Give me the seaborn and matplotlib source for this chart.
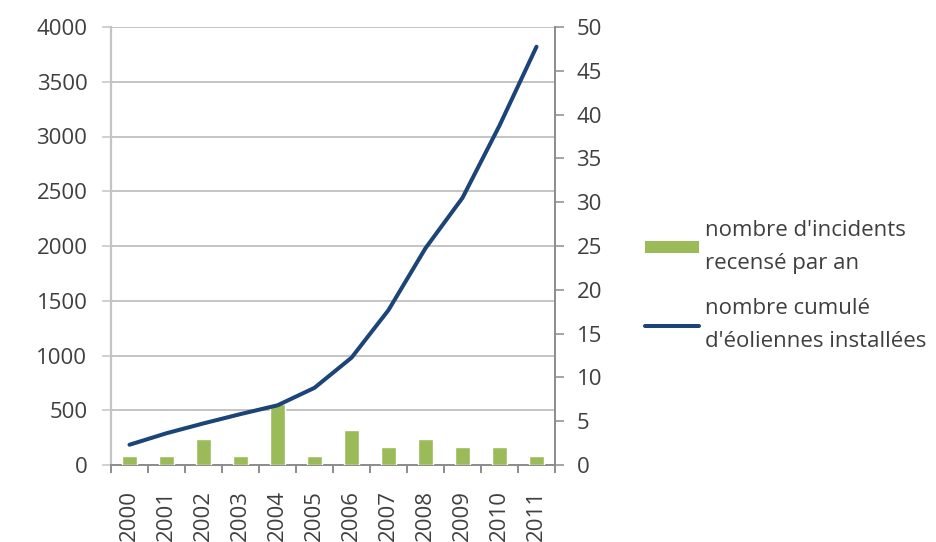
import numpy as np
import pandas as pd
import matplotlib
matplotlib.use("Agg")
import matplotlib.pyplot as plt
import seaborn as sns

# ---- data ----
years = np.array([2000, 2001, 2002, 2003, 2004, 2005, 2006, 2007, 2008, 2009, 2010, 2011])
incidents = [1, 1, 3, 1, 7, 1, 4, 2, 3, 2, 2, 1]
turbines = [185, 290, 380, 465, 545, 705, 980, 1415, 1980, 2440, 3100, 3820]
left_ticks = [0, 500, 1000, 1500, 2000, 2500, 3000, 3500, 4000]
right_ticks = [0, 5, 10, 15, 20, 25, 30, 35, 40, 45, 50]
label_bars = "nombre d'incidents\nrecensé par an"
label_line = "nombre cumulé\nd'éoliennes installées"

df = pd.DataFrame({"year": years, "incidents": incidents, "turbines": turbines})

sns.set_style("white")
plt.rcParams["font.family"] = ["Open Sans", "DejaVu Sans"]

GREEN = "#9BBB59"
BLUE = "#1B4478"
GRID = "#C4C4C4"
AXIS = "#8C8C8C"
TEXT = "#3F3F3F"
FS = 16

fig = plt.figure(figsize=(9.37, 5.42), dpi=100)
ax = fig.add_subplot(111)
fig.subplots_adjust(left=111 / 937, right=555 / 937, top=1 - 27 / 542, bottom=1 - 465 / 542)

axb = ax.twinx()
axl = ax.twinx()

# bars on right axis
sns.barplot(data=df, x="year", y="incidents", native_scale=True, color=GREEN,
            saturation=1, width=0.39, ax=axb, zorder=2)
# line on left axis
sns.lineplot(data=df, x="year", y="turbines", ax=axl, color=BLUE, lw=2.9,
             solid_capstyle="round", zorder=3)

for a in (ax, axb, axl):
    a.set_xlabel("")
    a.set_ylabel("")
    if a is not ax:
        a.patch.set_visible(False)
    for s in a.spines.values():
        s.set_visible(False)

ax.set_xlim(years[0] - 0.5, years[-1] + 0.5)
ax.set_ylim(left_ticks[0], left_ticks[-1])
axl.set_ylim(left_ticks[0], left_ticks[-1])
axb.set_ylim(right_ticks[0], right_ticks[-1])

# left axis (grid + labels)
ax.set_yticks(left_ticks)
ax.yaxis.grid(True, color=GRID, lw=1.4)
ax.tick_params(axis="y", which="major", left=True, length=6.5, width=1.1, color=GRID,
               pad=10.5, labelsize=FS, labelcolor=TEXT)
ax.spines["left"].set_visible(True)
ax.spines["left"].set_color(GRID)
ax.spines["left"].set_linewidth(1.6)
ax.spines["bottom"].set_visible(True)
ax.spines["bottom"].set_color(AXIS)
ax.spines["bottom"].set_linewidth(1.4)

# x axis: labels at categories, tick marks at boundaries
ax.set_xticks(years)
ax.set_xticklabels([str(y) for y in years], rotation=90)
ax.set_xticks(np.append(years - 0.5, years[-1] + 0.5), minor=True)
ax.tick_params(axis="x", which="major", length=0, pad=18, labelsize=FS, labelcolor=TEXT)
ax.tick_params(axis="x", which="minor", bottom=True, length=6.0, width=1.4, color=AXIS)

# right axis
axb.set_yticks(right_ticks)
axb.spines["right"].set_visible(True)
axb.spines["right"].set_color(AXIS)
axb.spines["right"].set_linewidth(1.4)
axb.tick_params(axis="y", which="major", right=True, length=6.5, width=1.1, color=AXIS,
                pad=9, labelsize=FS, labelcolor=TEXT)

axl.yaxis.set_visible(False)

# legend
bar_handle = matplotlib.patches.Patch(facecolor=GREEN, edgecolor="none")
line_handle = matplotlib.lines.Line2D([], [], color=BLUE, lw=2.9)
leg = fig.legend([bar_handle, line_handle], [label_bars, label_line],
                 loc="upper left", bbox_to_anchor=(645 / 937, 1 - 220 / 542),
                 frameon=False, fontsize=FS, handlelength=2.45, handleheight=0.5,
                 handletextpad=0.25, labelspacing=1.1, borderpad=0, borderaxespad=0,
                 labelcolor=TEXT)
for t in leg.get_texts():
    t.set_linespacing(1.75)

fig.savefig("out.png", dpi=100)
